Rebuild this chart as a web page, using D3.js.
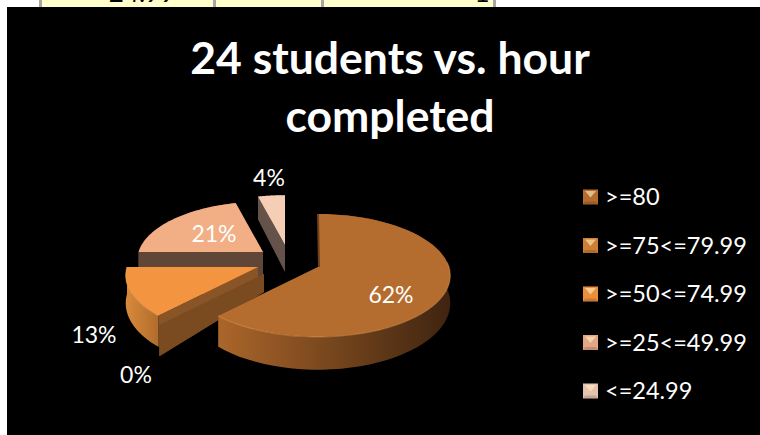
<!DOCTYPE html>
<html>
<head>
<meta charset="utf-8">
<script src="https://cdn.jsdelivr.net/npm/d3@7"></script>
<style>
html, body { margin: 0; padding: 0; background: #fff; overflow: hidden; }
svg { display: block; font-family: Lato, "Open Sans", sans-serif; }
</style>
</head>
<body>
<svg id="chart" width="760" height="435"></svg>
<script>
// chart values
var categories = [">=80", ">=75<=79.99", ">=50<=74.99", ">=25<=49.99", "<=24.99"];
var percents = [62, 0, 13, 21, 4];
var titleLines = ["24 students vs. hour", "completed"];

// look of each slice, same order as categories
var topColors = ["#b56d2f", "#cc7f35", "#f39540", "#f2ae84", "#f6cdb5"];
var markerColors = ["#b56d2f", "#cc7f35", "#ea8f3a", "#e4a685", "#e6c3b0"];
var cutColors = ["#5e3816", "#7a4a20", "#8a5526", "#5f4636", "#65524a"];
var wallLeft = ["#ab662a", "#7a4a20", "#d98a3c", "#5f4636", "#65524a"];
var wallRight = ["#3f2410", "#7a4a20", "#b06c2c", "#5f4636", "#65524a"];
var shiftX = [0, -54, -60, -55, -33];
var shiftY = [0, 7, 0, -15, -22];
var shrink = [1, 1.05, 1, 0.95, 0.94];
var labelX = [391, 136, 94, 214, 269];
var labelY = [295, 375, 335, 234, 178];
var drawOrder = [4, 3, 2, 1, 0];

var cx = 318, cy = 267, rx = 131, ry = 60.3, persp = 0.138, depth = 27;

var svg = d3.select("#chart");
var defs = svg.append("defs");

// spreadsheet row showing above the chart
var tableCols = d3.scaleOrdinal().domain([0, 1, 2, 3]).range([39, 213, 321, 493]);
svg.append("rect").attr("x", 39).attr("y", 0).attr("width", 456).attr("height", 7).attr("fill", "#ffffcc");
d3.range(4).forEach(function(i) {
    svg.append("rect").attr("x", tableCols(i)).attr("y", 0).attr("width", 3).attr("height", 7).attr("fill", "#a6a6a6");
});
svg.append("text").attr("x", 142).attr("y", 2).attr("text-anchor", "middle").attr("font-size", 26).attr("fill", "#000").text("24.99");
svg.append("text").attr("x", 482).attr("y", 2).attr("text-anchor", "middle").attr("font-size", 26).attr("fill", "#000").text("1");

svg.append("rect").attr("x", 7).attr("y", 7).attr("width", 753).attr("height", 428).attr("fill", "#000");

svg.selectAll("text.title")
    .data(titleLines)
    .enter().append("text")
    .attr("class", "title")
    .attr("x", 390)
    .attr("y", function(d, i) { return 74 + i * 58; })
    .attr("text-anchor", "middle")
    .attr("font-size", 44.5)
    .attr("font-weight", "bold")
    .attr("fill", "#fff")
    .text(function(d) { return d; });

var pie = d3.pie().sort(null).startAngle(0).endAngle(2 * Math.PI);
var slices = pie(percents);

function project(angle, i, radial) {
    var u = Math.sin(angle) * radial, v = Math.cos(angle) * radial;
    var s = 1 / (1 + persp * v);
    return {
        x: cx + shiftX[i] + rx * shrink[i] * u * s,
        y: cy + shiftY[i] - ry * shrink[i] * v * s,
        d: depth * Math.pow(s, 1.3)
    };
}

function arcPoints(d, i) {
    return d3.range(0, 61).map(function(k) {
        return project(d.startAngle + (d.endAngle - d.startAngle) * k / 60, i, 1);
    });
}

function toPath(points) {
    return "M" + points.map(function(p) { return p.x + "," + p.y; }).join("L") + "Z";
}

drawOrder.forEach(function(i) {
    var d = slices[i];
    var g = svg.append("g");
    var apex = project(0, i, 0);
    var first = project(d.startAngle, i, 1), last = project(d.endAngle, i, 1);
    var pts = arcPoints(d, i);
    var gradId = "wall" + i;
    var grad = defs.append("linearGradient").attr("id", gradId)
        .attr("gradientUnits", "userSpaceOnUse")
        .attr("x1", d3.min(pts, function(p) { return p.x; })).attr("x2", d3.max(pts, function(p) { return p.x; }))
        .attr("y1", 0).attr("y2", 0);
    grad.append("stop").attr("offset", "0%").attr("stop-color", wallLeft[i]);
    grad.append("stop").attr("offset", "100%").attr("stop-color", wallRight[i]);

    // the cut faces, the empty slice only has this sheet
    var apexDepth = percents[i] === 0 ? 18 : depth;
    [first, last].forEach(function(p) {
        g.append("path")
            .attr("d", toPath([apex, p, {x: p.x, y: p.y + p.d}, {x: apex.x, y: apex.y + apexDepth}]))
            .attr("fill", cutColors[i]);
    });
    if (percents[i] === 0) return;

    // outer wall
    var wallPts = pts.concat(pts.slice().reverse().map(function(p) { return {x: p.x, y: p.y + p.d}; }));
    g.append("path").attr("d", toPath(wallPts)).attr("fill", "url(#" + gradId + ")");

    // top face
    g.append("path").attr("d", toPath([apex].concat(pts))).attr("fill", topColors[i]);

    // light rim along the front of the two solid slices
    if (i === 0 || i === 2) {
        var front = pts.filter(function(p, k) { return Math.cos(d.startAngle + (d.endAngle - d.startAngle) * k / 60) < 0.1; });
        g.append("path")
            .attr("d", "M" + front.map(function(p) { return p.x + "," + p.y; }).join("L"))
            .attr("fill", "none")
            .attr("stroke", "#e8a565")
            .attr("stroke-opacity", 0.4)
            .attr("stroke-width", 1.2);
    }
    if (i === 0) {
        g.append("path")
            .attr("d", "M" + first.x + "," + first.y + "L" + (apex.x + 1) + "," + apex.y)
            .attr("stroke", "#6d421c")
            .attr("stroke-width", 2);
    }
});

svg.selectAll("text.pct")
    .data(percents)
    .enter().append("text")
    .attr("class", "pct")
    .attr("x", function(d, i) { return labelX[i]; })
    .attr("y", function(d, i) { return labelY[i]; })
    .attr("dy", "0.35em")
    .attr("text-anchor", "middle")
    .attr("font-size", 23)
    .attr("fill", "#fff")
    .text(function(d) { return d + "%"; });

// legend
var legendY = d3.scalePoint().domain(categories).range([197, 391]);
var legend = svg.selectAll("g.legend")
    .data(categories)
    .enter().append("g")
    .attr("class", "legend")
    .attr("transform", function(d) { return "translate(583," + legendY(d) + ")"; });

legend.append("rect").attr("x", 0).attr("y", -7.5).attr("width", 15).attr("height", 15)
    .attr("fill", function(d, i) { return markerColors[i]; });
legend.append("path").attr("d", "M2,-6L13,-6L7.5,0.5Z")
    .attr("fill", function(d, i) { return d3.interpolateRgb(markerColors[i], "#fff2c0")(0.6); });
legend.append("path").attr("d", "M0,7.5L15,7.5L13,4.5L2,4.5Z")
    .attr("fill", "#000").attr("fill-opacity", 0.15);

legend.append("text")
    .attr("x", 22)
    .attr("dy", "0.35em")
    .attr("font-size", 23.5)
    .attr("fill", "#fff")
    .text(function(d) { return d; });
</script>
</body>
</html>
